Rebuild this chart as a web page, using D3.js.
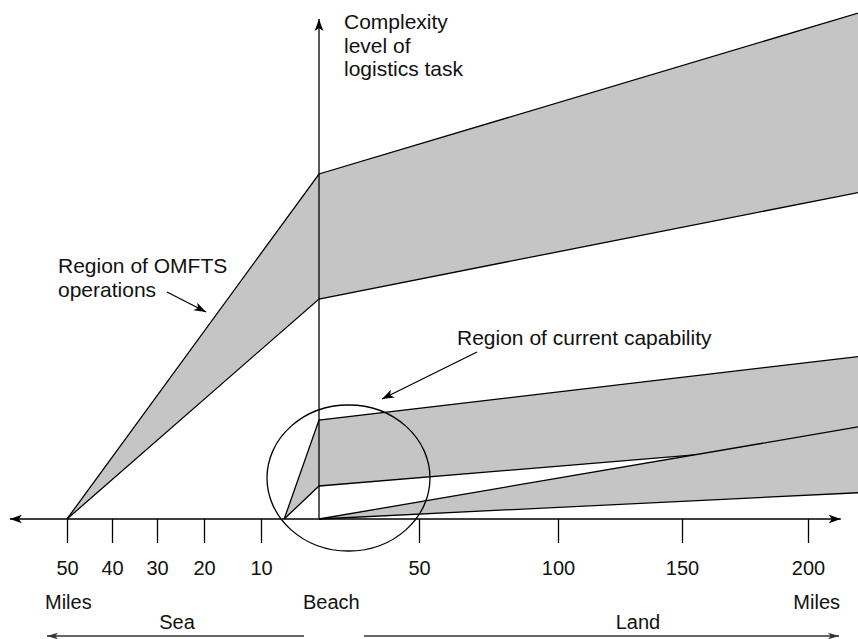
<!DOCTYPE html>
<html>
<head>
<meta charset="utf-8">
<script src="https://cdn.jsdelivr.net/npm/d3@7"></script>
<style>
  html, body { margin: 0; padding: 0; background: #fff; }
  svg { display: block; }
  text { font-family: "Liberation Sans", Arial, Helvetica, sans-serif; fill: #111; }
</style>
</head>
<body>
<svg id="chart" width="858" height="639"></svg>
<script>
// ---- data (distance in miles: sea negative, land positive; complexity in arbitrary units) ----
const seaTicks = [-50, -40, -30, -20, -10];
const landTicks = [50, 100, 150, 200];
const tickLabels = ["50", "40", "30", "20", "10", "50", "100", "150", "200"];

// Region of OMFTS operations
const omftsX = [-50, 0, 222];
const omftsUpper = [0, 69, 101.5];
const omftsLower = [0, 44, 65.5];

// Region of current capability (upper band, starting just off the beach)
const capX = [-6, 0, 222];
const capUpper = [0, 19.8, 32.6];
const capLower = [0, 6.6, 15.6];

// Region of current capability (lower band, starting at the beach)
const lowX = [0, 222];
const lowUpper = [0, 18.6];
const lowLower = [0, 5.3];

const axisExtent = [-62.7, 213];
const yMax = 100;

// ---- scales ----
const svg = d3.select("#chart");
const x = d3.scaleLinear()
  .domain([-50, -40, -30, -20, -10, 0, 50, 100, 150, 200])
  .range([67, 112, 157, 204, 261, 319, 419, 558, 682, 808]);
const y = d3.scaleLinear().domain([0, yMax]).range([519, 19]);

const defs = svg.append("defs");
defs.append("marker")
  .attr("id", "arr")
  .attr("viewBox", "0 -5 10 10")
  .attr("refX", 10).attr("refY", 0)
  .attr("markerWidth", 12).attr("markerHeight", 12)
  .attr("markerUnits", "userSpaceOnUse")
  .attr("orient", "auto")
  .append("path").attr("d", "M0,-3.6L10,0L0,3.6L2.5,0Z").attr("fill", "#000");
defs.append("marker")
  .attr("id", "arrG")
  .attr("viewBox", "0 -5 10 10")
  .attr("refX", 10).attr("refY", 0)
  .attr("markerWidth", 11).attr("markerHeight", 11)
  .attr("markerUnits", "userSpaceOnUse")
  .attr("orient", "auto")
  .append("path").attr("d", "M0,-3L10,0L0,3L2.5,0Z").attr("fill", "#333");

const fillC = "#c5c5c5";
const line = d3.line().x(d => x(d[0])).y(d => y(d[1]));
const pts = (xs, ys) => xs.map((v, i) => [v, ys[i]]);
const poly = (xs, up, lo) => pts(xs, up).concat(pts(xs, lo).reverse());

const g = svg.append("g");

// fills
g.append("path").attr("d", line(poly(omftsX, omftsUpper, omftsLower)) + "Z").attr("fill", fillC);
g.append("path").attr("d", line(poly(capX, capUpper, capLower)) + "Z").attr("fill", fillC);
// lower boundary of the upper capability band (hidden later where the bands overlap)
g.append("path").attr("d", line(pts(capX, capLower))).attr("fill", "none").attr("stroke", "#000").attr("stroke-width", 1.3);
g.append("path").attr("d", line(poly(lowX, lowUpper, lowLower)) + "Z").attr("fill", fillC);

// outlines
[[lowX, lowUpper], [lowX, lowLower], [capX, capUpper], [omftsX, omftsUpper], [omftsX, omftsLower]]
  .forEach(([xs, ys]) => {
    g.append("path").attr("d", line(pts(xs, ys)))
      .attr("fill", "none").attr("stroke", "#000").attr("stroke-width", 1.3);
  });

// horizontal axis with arrows at both ends
svg.append("line")
  .attr("x1", x(0)).attr("x2", x(axisExtent[0]))
  .attr("y1", y(0)).attr("y2", y(0))
  .attr("stroke", "#000").attr("stroke-width", 1.3).attr("marker-end", "url(#arr)");
svg.append("line")
  .attr("x1", x(0)).attr("x2", x(axisExtent[1]))
  .attr("y1", y(0)).attr("y2", y(0))
  .attr("stroke", "#000").attr("stroke-width", 1.3).attr("marker-end", "url(#arr)");

// ticks via d3 axis
const allTicks = seaTicks.concat(landTicks);
const xAxis = d3.axisBottom(x)
  .tickValues(allTicks)
  .tickSize(24)
  .tickPadding(18)
  .tickFormat((d, i) => tickLabels[i]);
const ax = svg.append("g").attr("transform", `translate(0,${y(0)})`).call(xAxis);
ax.select(".domain").remove();
ax.selectAll(".tick line").attr("stroke", "#000").attr("stroke-width", 1.3);
ax.selectAll(".tick text")
  .attr("font-size", 20)
  .attr("font-family", "'Liberation Sans', Arial, Helvetica, sans-serif")
  .attr("fill", "#111");

// vertical axis
svg.append("line")
  .attr("x1", x(0)).attr("x2", x(0))
  .attr("y1", y(0)).attr("y2", y(yMax))
  .attr("stroke", "#000").attr("stroke-width", 1.3).attr("marker-end", "url(#arr)");

// y-axis label
const yl = svg.append("text").attr("font-size", 21);
["Complexity", "level of", "logistics task"].forEach((t, i) => {
  yl.append("tspan").attr("x", 344).attr("y", 29 + i * 23.5).text(t);
});

// circle around the beach area
svg.append("ellipse")
  .attr("cx", 348.5).attr("cy", 478)
  .attr("rx", 81.5).attr("ry", 73)
  .attr("fill", "none").attr("stroke", "#000").attr("stroke-width", 1.3);

// bottom labels
const lab = (t, xx, yy, anchor) => svg.append("text")
  .attr("x", xx).attr("y", yy).attr("font-size", 20)
  .attr("text-anchor", anchor).text(t);
lab("Miles", 45, 609, "start");
lab("Beach", 303, 609, "start");
lab("Miles", 840, 609, "end");
lab("Sea", 177, 629, "middle");
lab("Land", 638, 629, "middle");

svg.append("line").attr("x1", 304).attr("x2", 47).attr("y1", 636).attr("y2", 636)
  .attr("stroke", "#333").attr("stroke-width", 1.5).attr("marker-end", "url(#arrG)");
svg.append("line").attr("x1", 364).attr("x2", 839).attr("y1", 636).attr("y2", 636)
  .attr("stroke", "#333").attr("stroke-width", 1.5).attr("marker-end", "url(#arrG)");

// annotations
const ann = svg.append("text").attr("font-size", 21);
ann.append("tspan").attr("x", 58).attr("y", 273).text("Region of OMFTS");
ann.append("tspan").attr("x", 58).attr("y", 297).text("operations");
svg.append("line").attr("x1", 167).attr("y1", 292).attr("x2", 206).attr("y2", 312)
  .attr("stroke", "#000").attr("stroke-width", 1.3).attr("marker-end", "url(#arr)");

svg.append("text").attr("x", 457).attr("y", 345).attr("font-size", 21).text("Region of current capability");
svg.append("line").attr("x1", 477).attr("y1", 352).attr("x2", 382).attr("y2", 399)
  .attr("stroke", "#000").attr("stroke-width", 1.3).attr("marker-end", "url(#arr)");
</script>
</body>
</html>
